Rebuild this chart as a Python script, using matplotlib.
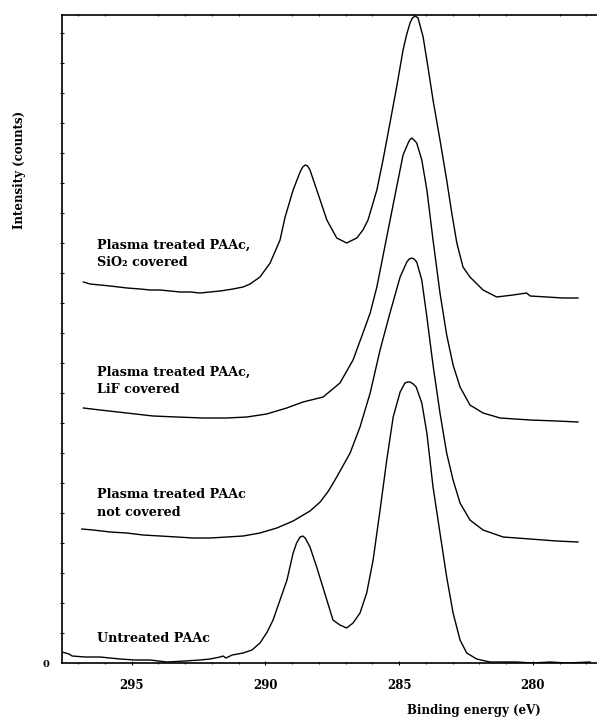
import numpy as np
import matplotlib.pyplot as plt
from matplotlib.ticker import MultipleLocator, FixedLocator

# C 1s spectra, stacked (binding energy in eV, intensity in arbitrary counts incl. offset)
untreated_be = [297.60, 297.34, 297.22, 296.74, 296.18, 295.80, 295.43, 294.87, 294.31, 293.67,
                293.00, 292.44, 292.07, 291.69, 291.58, 291.47, 291.24, 290.83, 290.50, 290.20,
                289.93, 289.71, 289.45, 289.19, 288.96, 288.83, 288.70, 288.60, 288.51, 288.33,
                288.08, 287.70, 287.47, 287.21, 286.96, 286.72, 286.46, 286.21, 285.97, 285.71,
                285.46, 285.22, 284.96, 284.78, 284.68, 284.59, 284.47, 284.36, 284.15, 283.96,
                283.73, 283.47, 283.22, 282.98, 282.72, 282.47, 282.10, 281.60, 280.60, 279.99,
                279.36, 278.73, 277.86]
untreated_i = [11, 9, 7, 6, 6, 5, 4, 3, 3, 1,
               2, 3, 4, 6, 7, 5, 8, 10, 13, 20,
               31, 43, 63, 83, 110, 120, 126, 127, 125, 116,
               96, 63, 43, 38, 35, 40, 50, 70, 103, 153,
               203, 246, 271, 280, 281, 281, 279, 276, 260, 230,
               176, 130, 86, 50, 23, 10, 4, 1, 1, 0,
               1, 0, 1]

notcov_be = [296.86, 296.44, 295.80, 295.18, 294.57, 293.93, 293.31, 292.70, 292.07, 291.44,
             290.83, 290.20, 289.57, 288.96, 288.33, 287.95, 287.64, 287.33, 286.83, 286.46,
             286.08, 285.71, 285.34, 284.96, 284.71, 284.62, 284.53, 284.44, 284.34, 284.15,
             283.96, 283.73, 283.47, 283.22, 282.98, 282.72, 282.35, 281.86, 281.11, 280.10,
             279.11, 278.31]
notcov_i = [134, 133, 131, 130, 128, 127, 126, 125, 125, 126,
            127, 130, 135, 142, 152, 161, 172, 186, 210, 236,
            270, 313, 350, 386, 401, 404, 405, 404, 401, 383,
            346, 298, 250, 210, 183, 160, 143, 133, 126, 124,
            122, 121]

lif_be = [296.80, 296.18, 295.18, 294.20, 293.31, 292.33, 291.44, 290.69, 289.95, 289.20,
          288.59, 287.84, 287.21, 286.72, 286.35, 286.08, 285.83, 285.46, 285.09, 284.85,
          284.66, 284.60, 284.53, 284.44, 284.34, 284.15, 283.96, 283.73, 283.47, 283.22,
          282.98, 282.72, 282.35, 281.86, 281.22, 280.10, 279.11, 278.31]
lif_i = [255, 253, 250, 247, 246, 245, 245, 246, 249, 255,
         261, 266, 280, 303, 330, 350, 376, 426, 476, 508,
         520, 523, 525, 523, 520, 503, 473, 423, 370, 328,
         298, 276, 258, 250, 245, 243, 242, 241]

sio2_be = [296.80, 296.55, 296.18, 295.80, 295.17, 294.68, 294.31, 293.93, 293.56, 293.19,
           292.81, 292.44, 292.07, 291.69, 291.21, 290.83, 290.57, 290.20, 289.82, 289.45,
           289.26, 288.96, 288.70, 288.60, 288.51, 288.42, 288.33, 287.95, 287.70, 287.33,
           286.96, 286.58, 286.35, 286.16, 285.83, 285.60, 285.34, 285.09, 284.85, 284.72,
           284.59, 284.50, 284.40, 284.29, 284.10, 283.92, 283.73, 283.47, 283.22, 283.03,
           282.84, 282.61, 282.35, 281.86, 281.35, 280.74, 280.23, 280.10, 279.48, 278.87,
           278.31]
sio2_i = [381, 379, 378, 377, 375, 374, 373, 373, 372, 371,
          371, 370, 371, 372, 374, 376, 379, 386, 400, 423,
          446, 473, 491, 496, 498, 497, 493, 463, 443, 425,
          420, 425, 433, 443, 473, 503, 540, 576, 613, 628,
          640, 645, 647, 645, 626, 596, 563, 523, 483, 450,
          420, 396, 386, 373, 366, 368, 370, 367, 366, 365,
          365]

labels = ["Untreated PAAc",
          "Plasma treated PAAc\nnot covered",
          "Plasma treated PAAc,\nLiF covered",
          "Plasma treated PAAc,\nSiO\u2082 covered"]
label_y = [25, 160, 282, 409]

xticks = [295, 290, 285, 280]

serif = ["DejaVu Serif"]

fig = plt.figure(figsize=(5.97, 7.17), dpi=100)
ax = fig.add_axes([0.1039, 0.0753, 0.8961, 0.9038])

for be, inten in [(untreated_be, untreated_i), (notcov_be, notcov_i),
                  (lif_be, lif_i), (sio2_be, sio2_i)]:
    ax.plot(be, inten, color="black", lw=1.0, solid_joinstyle="round")

for txt, y in zip(labels, label_y):
    ax.text(296.3, y, txt, ha="left", va="center", fontsize=9.2, fontweight="bold",
            family=serif, linespacing=1.5)

ax.set_xlim(297.6, 277.6)
ax.set_ylim(0, 648)

ax.spines["right"].set_visible(False)
for side in ["left", "top", "bottom"]:
    ax.spines[side].set_linewidth(1.2)

ax.xaxis.set_major_locator(FixedLocator(xticks))
ax.xaxis.set_minor_locator(MultipleLocator(1))
ax.set_xticklabels([str(t) for t in xticks], fontsize=8.5, fontweight="bold", family=serif)
ax.tick_params(axis="x", which="major", length=2.5, width=0.8, direction="inout", pad=10)
ax.tick_params(axis="x", which="minor", length=2, width=0.6, direction="inout", top=True)

ax.set_yticks([0])
ax.set_yticklabels(["0"], fontsize=7, fontweight="bold", family=serif)
ax.yaxis.set_minor_locator(MultipleLocator(30))
ax.tick_params(axis="y", which="major", length=0, pad=9)
ax.tick_params(axis="y", which="minor", length=2.5, width=0.7, direction="inout")

fig.text(0.0335, 1 - 170 / 717, "Intensity (counts)", rotation=90, ha="center", va="center",
         fontsize=8.5, fontweight="bold", family=serif)
fig.text(474 / 597, 1 - 704 / 717, "Binding energy (eV)", ha="center", va="top",
         fontsize=8.5, fontweight="bold", family=serif)

fig.savefig("out.png", dpi=100)
